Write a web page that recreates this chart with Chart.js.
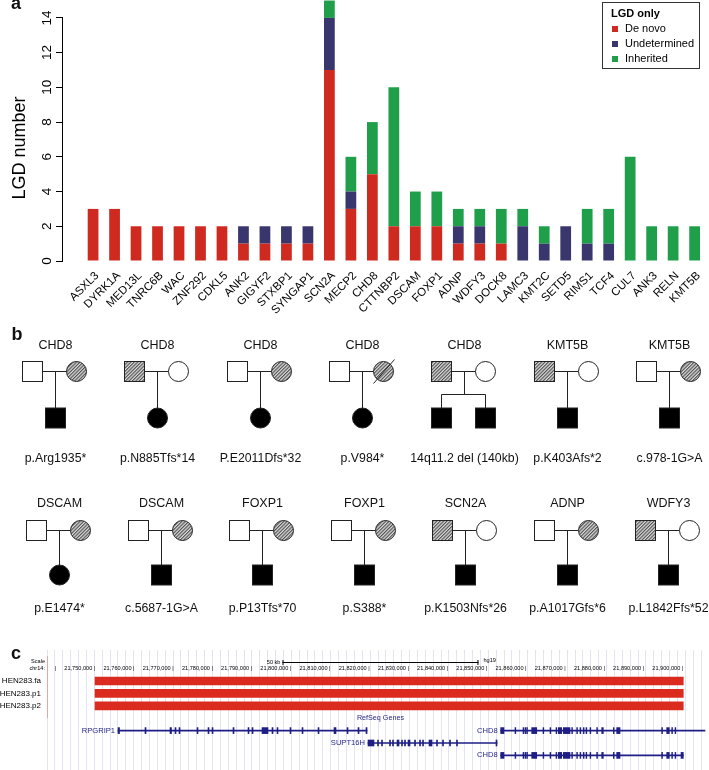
<!DOCTYPE html>
<html>
<head>
<meta charset="utf-8">
<title>LGD genes</title>
<script src="https://cdn.jsdelivr.net/npm/chart.js@4.4.1/dist/chart.umd.min.js"></script>
<style>
    html, body { margin: 0; padding: 0; background: #fff; overflow: hidden; }
    #page { position: relative; width: 709px; height: 770px; overflow: hidden; font-family: 'Liberation Sans', Arial, sans-serif; }
    #barChart { position: absolute; left: 0; top: 0; }
    #cnvChart { position: absolute; left: 0; top: 650px; }
    #ped { position: absolute; left: 0; top: 0; pointer-events: none; }
    #legend { position: absolute; left: 602px; top: 2px; width: 88px; height: 62px; border: 1px solid #333;
              padding: 3px 0 0 8px; font-size: 11px; line-height: 15px; color: #000; }
    #legend .title { font-weight: bold; }
    #legend .mark { display: inline-block; width: 6px; height: 6px; margin: 0 7px 1px 1px; vertical-align: middle; }
</style>
</head>
<body>
<div id="page">
    <canvas id="barChart" width="709" height="315"></canvas>
    <div id="legend"></div>
    <canvas id="cnvChart" width="709" height="124"></canvas>
    <svg id="ped" width="709" height="770" xmlns="http://www.w3.org/2000/svg"></svg>
</div>
<script>
// ---- panel a: LGD counts per gene ----
const genes = ['ASXL3', 'DYRK1A', 'MED13L', 'TNRC6B', 'WAC', 'ZNF292', 'CDKL5', 'ANK2', 'GIGYF2', 'STXBP1',
    'SYNGAP1', 'SCN2A', 'MECP2', 'CHD8', 'CTTNBP2', 'DSCAM', 'FOXP1', 'ADNP', 'WDFY3', 'DOCK8',
    'LAMC3', 'KMT2C', 'SETD5', 'RIMS1', 'TCF4', 'CUL7', 'ANK3', 'RELN', 'KMT5B'];
const deNovo       = [3, 3, 2, 2, 2, 2, 2, 1, 1, 1, 1, 11, 3, 5, 2, 2, 2, 1, 1, 1, 0, 0, 0, 0, 0, 0, 0, 0, 0];
const undetermined = [0, 0, 0, 0, 0, 0, 0, 1, 1, 1, 1, 3, 1, 0, 0, 0, 0, 1, 1, 0, 2, 1, 2, 1, 1, 0, 0, 0, 0];
const inherited    = [0, 0, 0, 0, 0, 0, 0, 0, 0, 0, 0, 1, 2, 3, 8, 2, 2, 1, 1, 2, 1, 1, 0, 2, 2, 6, 2, 2, 2];
const seriesLabels = ['De novo', 'Undetermined', 'Inherited'];
const seriesColors = ['#cf2a1f', '#39356d', '#1f9f4a'];
const legendTitle = 'LGD only';

// ---- panel b: pedigrees ----
const pedGenes = ['CHD8', 'CHD8', 'CHD8', 'CHD8', 'CHD8', 'KMT5B', 'KMT5B',
    'DSCAM', 'DSCAM', 'FOXP1', 'FOXP1', 'SCN2A', 'ADNP', 'WDFY3'];
const pedVariants = ['p.Arg1935*', 'p.N885Tfs*14', 'P.E2011Dfs*32', 'p.V984*', '14q11.2 del (140kb)', 'p.K403Afs*2', 'c.978-1G>A',
    'p.E1474*', 'c.5687-1G>A', 'p.P13Tfs*70', 'p.S388*', 'p.K1503Nfs*26', 'p.A1017Gfs*6', 'p.L1842Ffs*52'];
const pedCarrier = ['M', 'F', 'M', 'M', 'F', 'F', 'M', 'M', 'M', 'M', 'M', 'F', 'M', 'F'];   // hatched parent
const pedChildren = ['M', 'F', 'F', 'F', 'MM', 'M', 'M', 'F', 'M', 'M', 'M', 'M', 'M', 'M']; // affected offspring
const pedDeceasedMother = [3];

// ---- panel c: UCSC view of the CHD8 deletion ----
const cnvTracks = ['HEN283.fa', 'HEN283.p1', 'HEN283.p2'];
const cnvStart = [21750180, 21750180, 21750180];
const cnvEnd   = [21900250, 21900250, 21900250];
const browserRows = ['scale', 'ruler', 'HEN283.fa', 'HEN283.p1', 'HEN283.p2', 'RefSeq Genes', 'genes1', 'genes2', 'genes3', 'spare'];
const windowStart = 21737930, windowEnd = 21906810;
const rulerStep = 10000;
const scaleBar = [21798000, 21848000];
const geneNames = ['RPGRIP1', 'SUPT16H', 'CHD8', 'CHD8'];
const geneRow   = ['genes1', 'genes2', 'genes1', 'genes3'];
const geneStart = [21756050, 21819820, 21853670, 21853670];
const geneEnd   = [21819570, 21852730, 21905790, 21900250];
const rpgrip1Exons = [[21756050, 21756430], [21762930, 21763190], [21769310, 21769690], [21770590, 21770840],
    [21771610, 21771860], [21776200, 21776450], [21779000, 21779260], [21780030, 21780280], [21785380, 21785640],
    [21789210, 21789460], [21790230, 21790490], [21792780, 21794310], [21795330, 21795590], [21796610, 21796860],
    [21799920, 21800170], [21802990, 21803240], [21807070, 21807320], [21811150, 21811660], [21814470, 21814720],
    [21817270, 21817530], [21819310, 21819570]];
const supt16hExons = [[21819820, 21821350], [21822250, 21822500], [21823270, 21823520], [21825310, 21825560],
    [21826070, 21826330], [21827220, 21827730], [21828370, 21828620], [21829130, 21829390], [21830030, 21830540],
    [21831680, 21831940], [21832960, 21833220], [21833730, 21833980], [21835380, 21836150], [21837300, 21837550],
    [21838830, 21839080], [21840610, 21840870], [21842400, 21842650], [21852470, 21852730]];
const chd8Exons = [[21853670, 21854510], [21857320, 21857530], [21859360, 21859570], [21859870, 21860080],
    [21860310, 21860510], [21861580, 21862860], [21864460, 21864670], [21866250, 21866450], [21867780, 21867980],
    [21868370, 21869230], [21869640, 21871350], [21871790, 21871990], [21873060, 21873260], [21873900, 21874110],
    [21874740, 21874950], [21875430, 21875640], [21876450, 21876660], [21878160, 21878370], [21879440, 21879850],
    [21882400, 21882600], [21883260, 21884110], [21894740, 21894950], [21896020, 21896680], [21897300, 21897500],
    [21898140, 21898340]];
const chd8ShortExons = chd8Exons.concat([[21899670, 21900250]]);
const geneExons = [rpgrip1Exons, supt16hExons, chd8Exons, chd8ShortExons];

const FONT = "'Liberation Sans', Arial, sans-serif";
const NAVY = '#1e1e84';
Chart.defaults.font.family = FONT;
Chart.defaults.color = '#000';

// no automatic label padding around the plot area
function noPadding(s) {
    s.paddingTop = 0;
    s.paddingBottom = 0;
    s.paddingLeft = 0;
    s.paddingRight = 0;
}

// y axis line only between first and last tick (R style)
const yAxisLine = {
    id: 'yAxisLine',
    afterDraw(chart) {
        const s = chart.scales.y;
        const ctx = chart.ctx;
        const x = Math.round(s.right) - 0.5;
        const y0 = Math.round(s.getPixelForValue(s.ticks[0].value)) + 1;
        const y1 = Math.round(s.getPixelForValue(s.ticks[s.ticks.length - 1].value));
        ctx.save();
        ctx.strokeStyle = '#000';
        ctx.lineWidth = 1;
        ctx.beginPath();
        ctx.moveTo(x, y0);
        ctx.lineTo(x, y1);
        ctx.stroke();
        ctx.restore();
    }
};

function initBarChart() {
    const values = [deNovo, undetermined, inherited];
    new Chart(document.getElementById('barChart'), {
        type: 'bar',
        data: {
            datasets: seriesLabels.map((label, k) => ({
                label: label,
                data: values[k].map((v, i) => ({ x: i, y: v })),
                backgroundColor: seriesColors[k],
                borderWidth: 0,
                barPercentage: 0.5,
                categoryPercentage: 1
            }))
        },
        options: {
            responsive: false,
            animation: false,
            layout: { padding: 0 },
            plugins: { legend: { display: false }, tooltip: { enabled: false } },
            scales: {
                x: {
                    type: 'linear',
                    stacked: true,
                    offset: false,
                    min: -1.4,
                    max: 28.67,
                    grid: { display: false, drawTicks: false },
                    border: { display: false },
                    ticks: {
                        stepSize: 1,
                        autoSkip: false,
                        includeBounds: false,
                        minRotation: 45,
                        maxRotation: 45,
                        padding: 8,
                        labelOffset: 4,
                        font: { size: 11.5 },
                        callback: v => genes[v] ?? ''
                    },
                    afterFit: s => { s.height = 54; noPadding(s); }
                },
                y: {
                    stacked: true,
                    min: 0,
                    max: 15.03,
                    border: { display: false },
                    grid: { drawOnChartArea: false, drawTicks: true, tickLength: 7, color: '#000' },
                    ticks: {
                        stepSize: 2,
                        includeBounds: false,
                        minRotation: 90,
                        maxRotation: 90,
                        crossAlign: 'center',
                        padding: 1,
                        font: { size: 13.5 }
                    },
                    title: {
                        display: true,
                        text: 'LGD number       ',
                        font: { size: 18 },
                        padding: { top: 9, bottom: 0 }
                    },
                    afterFit: s => { s.width = 63; noPadding(s); }
                }
            }
        },
        plugins: [yAxisLine]
    });

    // legend box
    let html = `<div class="title">${legendTitle}</div>`;
    seriesLabels.forEach((label, k) => {
        html += `<div><span class="mark" style="background:${seriesColors[k]}"></span>${label}</div>`;
    });
    document.getElementById('legend').innerHTML = html;
}

function fmtPos(v) {
    return v.toString().replace(/\B(?=(\d{3})+(?!\d))/g, ',');
}

// ruler, scale bar, track title and gene names of the browser view
const browserDecor = {
    id: 'browserDecor',
    afterDatasetsDraw(chart) {
        const { ctx, chartArea: a, scales: { x, y } } = chart;
        const rowY = name => y.getPixelForValue(browserRows.indexOf(name));
        const barY = Math.round((rowY('scale') + rowY('ruler')) / 2) + 0.5;
        const x0 = x.getPixelForValue(scaleBar[0]);
        const x1 = x.getPixelForValue(scaleBar[1]);
        ctx.save();
        // separator
        ctx.strokeStyle = '#eba3a3';
        ctx.lineWidth = 1;
        ctx.beginPath();
        ctx.moveTo(Math.round(a.left) + 0.5, rowY('scale'));
        ctx.lineTo(Math.round(a.left) + 0.5, rowY('RefSeq Genes'));
        ctx.stroke();
        // scale bar
        ctx.strokeStyle = '#000';
        ctx.beginPath();
        ctx.moveTo(x0, barY); ctx.lineTo(x1, barY);
        ctx.moveTo(x0 + 0.5, barY - 2.5); ctx.lineTo(x0 + 0.5, barY + 2.5);
        ctx.moveTo(x1 - 0.5, barY - 2.5); ctx.lineTo(x1 - 0.5, barY + 2.5);
        ctx.stroke();
        ctx.fillStyle = '#000';
        ctx.font = `5.6px ${FONT}`;
        ctx.textBaseline = 'middle';
        ctx.textAlign = 'right';
        ctx.fillText('Scale', a.left - 2, barY - 1);
        ctx.fillText('chr14:', a.left - 2, rowY('ruler'));
        ctx.fillText('50 kb', x0 - 2, barY);
        // ruler labels, one every rulerStep along the x scale
        for (let v = Math.ceil(x.min / rulerStep) * rulerStep; v <= x.max; v += rulerStep) {
            const label = v - 0.8 * rulerStep < x.min ? '|' : fmtPos(v) + ' |';
            ctx.fillText(label, x.getPixelForValue(v) + 1, rowY('ruler'));
        }
        ctx.textAlign = 'left';
        ctx.fillText('hg19', x1 + 5, barY - 2);
        // track title and gene labels
        ctx.fillStyle = NAVY;
        ctx.font = `7.2px ${FONT}`;
        ctx.textAlign = 'center';
        ctx.fillText('RefSeq Genes', (x0 + x1) / 2, rowY('RefSeq Genes'));
        ctx.font = `7.6px ${FONT}`;
        ctx.textAlign = 'right';
        geneNames.forEach((g, i) => {
            ctx.fillText(g, x.getPixelForValue(geneStart[i]) - 3, rowY(geneRow[i]));
        });
        ctx.restore();
    }
};

function initBrowser() {
    new Chart(document.getElementById('cnvChart'), {
        type: 'bar',
        data: {
            labels: browserRows,
            datasets: [
                {
                    data: cnvTracks.map((t, i) => ({ x: [cnvStart[i], cnvEnd[i]], y: t })),
                    backgroundColor: '#db2a1e',
                    barThickness: 8,
                    grouped: false
                },
                {
                    data: geneNames.map((g, i) => ({ x: [geneStart[i], geneEnd[i]], y: geneRow[i] })),
                    backgroundColor: NAVY,
                    barThickness: 1,
                    grouped: false
                },
                {
                    data: geneExons.flatMap((ex, i) => ex.map(e => ({ x: e, y: geneRow[i] }))),
                    backgroundColor: NAVY,
                    barThickness: 6,
                    grouped: false
                }
            ]
        },
        options: {
            indexAxis: 'y',
            responsive: false,
            animation: false,
            layout: { padding: 0 },
            plugins: { legend: { display: false }, tooltip: { enabled: false } },
            scales: {
                x: {
                    type: 'linear',
                    position: 'top',
                    min: windowStart,
                    max: windowEnd,
                    grid: { color: '#e3e3f3', drawTicks: false },
                    border: { display: false },
                    ticks: {
                        display: false,
                        stepSize: 2000,
                        autoSkip: false,
                        includeBounds: false
                    },
                    afterFit: s => { s.height = 0; noPadding(s); }
                },
                y: {
                    grid: { display: false, drawTicks: false },
                    border: { display: false },
                    ticks: {
                        autoSkip: false,
                        padding: 6,
                        font: { size: 8 },
                        callback(v) {
                            const l = this.getLabelForValue(v);
                            return cnvTracks.includes(l) ? l : '';
                        }
                    },
                    afterFit: s => { s.width = 47; noPadding(s); }
                }
            }
        },
        plugins: [browserDecor]
    });
}

// pedigrees and panel letters
function drawPedigrees() {
    const rowGeom = [
        { x0: 55, step: 102.3, gene: 348.5, par: 371, kid: 408, text: 461.5 },
        { x0: 59, step: 101.5, gene: 506.5, par: 530, kid: 565, text: 611.5 }
    ];
    const box = 20, rad = 10;
    let out = '<defs><pattern id="hatch" width="2.4" height="2.4" patternUnits="userSpaceOnUse" patternTransform="rotate(45)">' +
        '<rect width="2.4" height="2.4" fill="#dcdcdc"/><line x1="0.6" y1="0" x2="0.6" y2="2.4" stroke="#3a3a3a" stroke-width="1"/></pattern></defs>';
    const stroke = 'stroke="#222" stroke-width="1"';
    const line = (x1, y1, x2, y2) => `<line x1="${x1}" y1="${y1}" x2="${x2}" y2="${y2}" ${stroke}/>`;
    const square = (cx, top, fill) => `<rect x="${cx - box / 2}" y="${top}" width="${box}" height="${box}" fill="${fill}" ${stroke}/>`;
    const circle = (cx, cy, fill) => `<circle cx="${cx}" cy="${cy}" r="${rad}" fill="${fill}" ${stroke}/>`;
    const text = (x, y, s, size, weight) =>
        `<text x="${x}" y="${y}" font-family="${FONT.replace(/'/g, '')}" font-size="${size}" font-weight="${weight || 'normal'}" text-anchor="middle" fill="#111">${s.replace(/>/g, '&gt;')}</text>`;

    pedGenes.forEach((g, i) => {
        const r = rowGeom[Math.floor(i / 7)];
        const cx = Math.round(r.x0 + (i % 7) * r.step) + 0.5;
        const par = r.par + 0.5;
        const fx = cx - 23, mx = cx + 21;
        out += text(cx, r.gene, g, 12.5);
        out += line(fx + box / 2, par, mx - rad, par);
        out += square(fx, par - box / 2, pedCarrier[i] === 'F' ? 'url(#hatch)' : '#fff');
        out += circle(mx, par, pedCarrier[i] === 'M' ? 'url(#hatch)' : '#fff');
        if (pedDeceasedMother.includes(i)) out += line(mx - 10, par + 12, mx + 11, par - 12);
        const kids = pedChildren[i].split('');
        if (kids.length === 1) {
            out += line(cx, par, cx, r.kid);
            out += kids[0] === 'M' ? square(cx, r.kid, '#000') : circle(cx, r.kid + rad, '#000');
        } else {
            const sib = Math.round(par + (r.kid - par) * 0.63) + 0.5;
            out += line(cx, par, cx, sib);
            out += line(fx, sib, mx, sib);
            [fx, mx].forEach((kx, k) => {
                out += line(kx, sib, kx, r.kid);
                out += kids[k] === 'M' ? square(kx, r.kid, '#000') : circle(kx, r.kid + rad, '#000');
            });
        }
        out += text(cx, r.text, pedVariants[i], 12.3);
    });

    out += text(16, 8.5, 'a', 18, 'bold');
    out += text(17, 340, 'b', 18, 'bold');
    out += text(16, 659, 'c', 18, 'bold');
    document.getElementById('ped').innerHTML = out;
}

document.addEventListener('DOMContentLoaded', () => {
    initBarChart();
    initBrowser();
    drawPedigrees();
});
</script>
</body>
</html>
